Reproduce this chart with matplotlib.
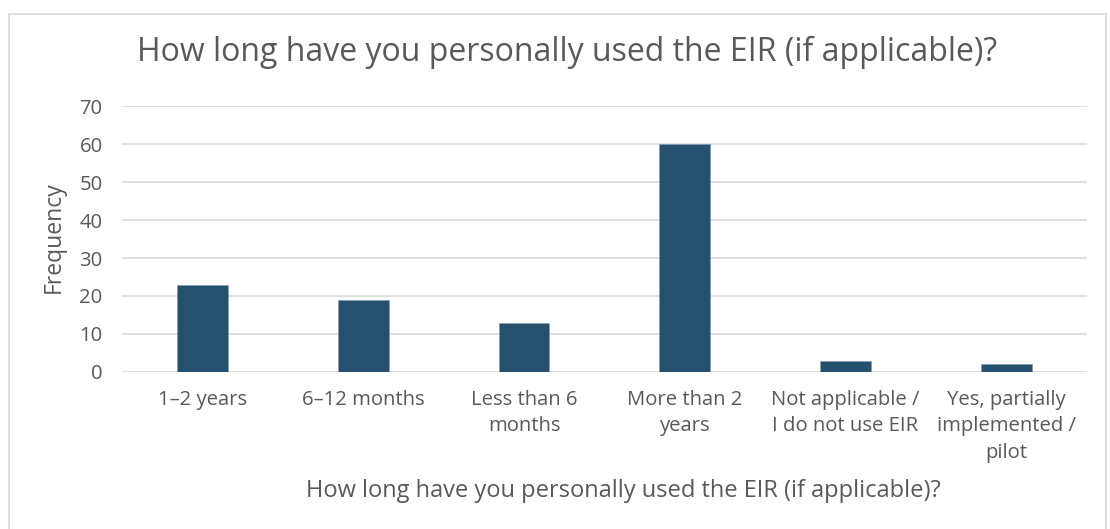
import numpy as np
import matplotlib.pyplot as plt
from matplotlib.patches import Rectangle

categories = ['1–2 years', '6–12 months', 'Less than 6\nmonths', 'More than 2\nyears',
              'Not applicable /\nI do not use EIR', 'Yes, partially\nimplemented /\npilot']
frequency = [23, 19, 13, 60, 3, 2]
y_ticks = [0, 10, 20, 30, 40, 50, 60, 70]
question = 'How long have you personally used the EIR (if applicable)?'

plt.rcParams['font.family'] = ['Open Sans', 'DejaVu Sans']
text_color = '#595959'
bar_color = '#27506f'

fig = plt.figure(figsize=(11.1, 5.29), dpi=100)
# thin frame around the whole chart
fig.patches.append(Rectangle((9 / 1110, -0.01), 1097 / 1110, 1 - 14 / 529 + 0.01,
                             transform=fig.transFigure, fill=False,
                             edgecolor='#d9d9d9', linewidth=1.2))

ax = fig.add_axes([0.110, 0.2968, 0.869, 0.5028])
x = np.arange(len(categories))
ax.bar(x, frequency, width=0.317, color=bar_color, edgecolor='#7f9ab0', linewidth=0.4, zorder=3)

ax.set_xlim(-0.5, len(categories) - 0.5)
ax.set_ylim(0, 70)
ax.set_yticks(y_ticks)
ax.set_xticks(x)
ax.set_xticklabels(categories, fontsize=14.6, color=text_color, linespacing=1.42)
ax.tick_params(axis='y', labelsize=14.6, labelcolor=text_color, length=0, pad=14)
ax.tick_params(axis='x', length=0, pad=13)
ax.grid(axis='y', color='#d9d9d9', linewidth=1.2, zorder=0)
for side in ['top', 'right', 'left', 'bottom']:
    ax.spines[side].set_visible(False)

ax.set_ylabel('Frequency', fontsize=16.5, color=text_color, va='center')
ax.yaxis.set_label_coords((54 - 122) / 965, (372 - 237) / 266)
ax.set_xlabel(question, fontsize=17, color=text_color, va='center')
ax.xaxis.set_label_coords((623 - 122) / 965, (372 - 491) / 266)
fig.text(567 / 1110, 1 - 52 / 529, question, ha='center', va='center', fontsize=23, color=text_color)

fig.savefig('out.png', dpi=100)
